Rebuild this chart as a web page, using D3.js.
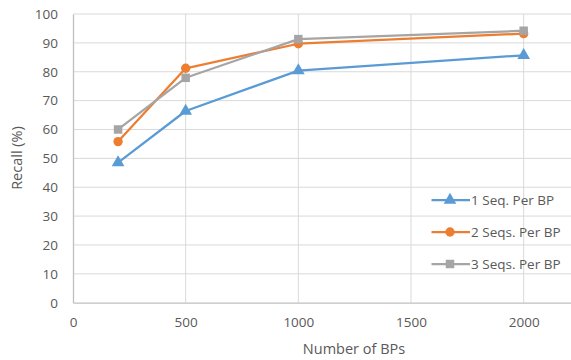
<!DOCTYPE html>
<html>
<head>
<meta charset="utf-8">
<script src="https://cdn.jsdelivr.net/npm/d3@7"></script>
<style>
  html, body { margin: 0; padding: 0; background: #fff; }
  svg { display: block; }
  text { font-family: "Open Sans", Lato, sans-serif; }
</style>
</head>
<body>
<svg id="chart" width="571" height="360"></svg>
<script>
// Recall (%) against the number of BPs, for 1, 2 and 3 sequences per BP
const bpCounts = [200, 500, 1000, 2000];
const seriesNames = ["1 Seq. Per BP", "2 Seqs. Per BP", "3 Seqs. Per BP"];
const recallOneSeq = [48.5, 66.4, 80.4, 85.7];
const recallTwoSeqs = [55.8, 81.2, 89.7, 93.2];
const recallThreeSeqs = [60.0, 77.9, 91.3, 94.2];
const xTicks = [0, 500, 1000, 1500, 2000];
const yTicks = [0, 10, 20, 30, 40, 50, 60, 70, 80, 90, 100];

const series = [
  { name: seriesNames[0], values: recallOneSeq, color: "#5b9bd5", marker: d3.symbolTriangle, size: 70 },
  { name: seriesNames[1], values: recallTwoSeqs, color: "#ed7d31", marker: d3.symbolCircle, size: 68 },
  { name: seriesNames[2], values: recallThreeSeqs, color: "#a5a5a5", marker: d3.symbolSquare, size: 72 }
];

const svg = d3.select("#chart");
const plot = { left: 73, right: 571, top: 14, bottom: 302.7 };

const x = d3.scaleLinear().domain([0, 2210]).range([plot.left, plot.right]);
const y = d3.scaleLinear().domain([0, 100]).range([plot.bottom, plot.top]);

// gridlines
const grid = svg.append("g");
grid.selectAll("line.h").data(yTicks.filter(d => d > 0)).join("line")
  .attr("x1", plot.left).attr("x2", plot.right)
  .attr("y1", d => y(d)).attr("y2", d => y(d))
  .attr("stroke", "#d9d9d9").attr("stroke-width", 1);
grid.selectAll("line.v").data(xTicks.filter(d => d > 0)).join("line")
  .attr("y1", plot.top).attr("y2", plot.bottom)
  .attr("x1", d => x(d)).attr("x2", d => x(d))
  .attr("stroke", "#d9d9d9").attr("stroke-width", 1);

// axes
const yAxis = svg.append("g").attr("transform", `translate(${plot.left},0)`)
  .call(d3.axisLeft(y).tickValues(yTicks).tickFormat(d3.format("d")).tickSize(0).tickPadding(15));
const xAxis = svg.append("g").attr("transform", `translate(0,${plot.bottom})`)
  .call(d3.axisBottom(x).tickValues(xTicks).tickFormat(d3.format("d")).tickSize(0).tickPadding(15));
[xAxis, yAxis].forEach(g => {
  g.select(".domain").attr("stroke", "#bfbfbf").attr("stroke-width", 1.3);
  g.selectAll("text").attr("fill", "#595959").style("font-size", "13.5px")
    .style("font-family", "'Open Sans', Lato, sans-serif");
});

svg.append("text")
  .attr("x", 354).attr("y", 354)
  .attr("text-anchor", "middle").attr("fill", "#595959")
  .style("font-size", "14.5px").text("Number of BPs");
svg.append("text")
  .attr("transform", `translate(22,158) rotate(-90)`)
  .attr("text-anchor", "middle").attr("fill", "#595959")
  .style("font-size", "14.5px").text("Recall (%)");

// series lines and markers
const line = d3.line().x((d, i) => x(bpCounts[i])).y(d => y(d));
series.forEach(s => {
  svg.append("path").datum(s.values)
    .attr("d", line).attr("fill", "none")
    .attr("stroke", s.color).attr("stroke-width", 2.25)
    .attr("stroke-linejoin", "round");
  svg.selectAll(null).data(s.values).join("path")
    .attr("transform", (d, i) => `translate(${x(bpCounts[i])},${y(d)})`)
    .attr("d", d3.symbol().type(s.marker).size(s.size))
    .attr("fill", s.color);
});

// legend
const legend = svg.append("g");
series.forEach((s, i) => {
  const ly = 200 + i * 32;
  legend.append("line").attr("x1", 431.5).attr("x2", 470).attr("y1", ly).attr("y2", ly)
    .attr("stroke", s.color).attr("stroke-width", 2.25);
  legend.append("path").attr("transform", `translate(450,${ly})`)
    .attr("d", d3.symbol().type(s.marker).size(s.size)).attr("fill", s.color);
  legend.append("text").attr("x", 471).attr("y", ly + 5)
    .attr("fill", "#595959").style("font-size", "13.5px").text(s.name);
});
</script>
</body>
</html>
